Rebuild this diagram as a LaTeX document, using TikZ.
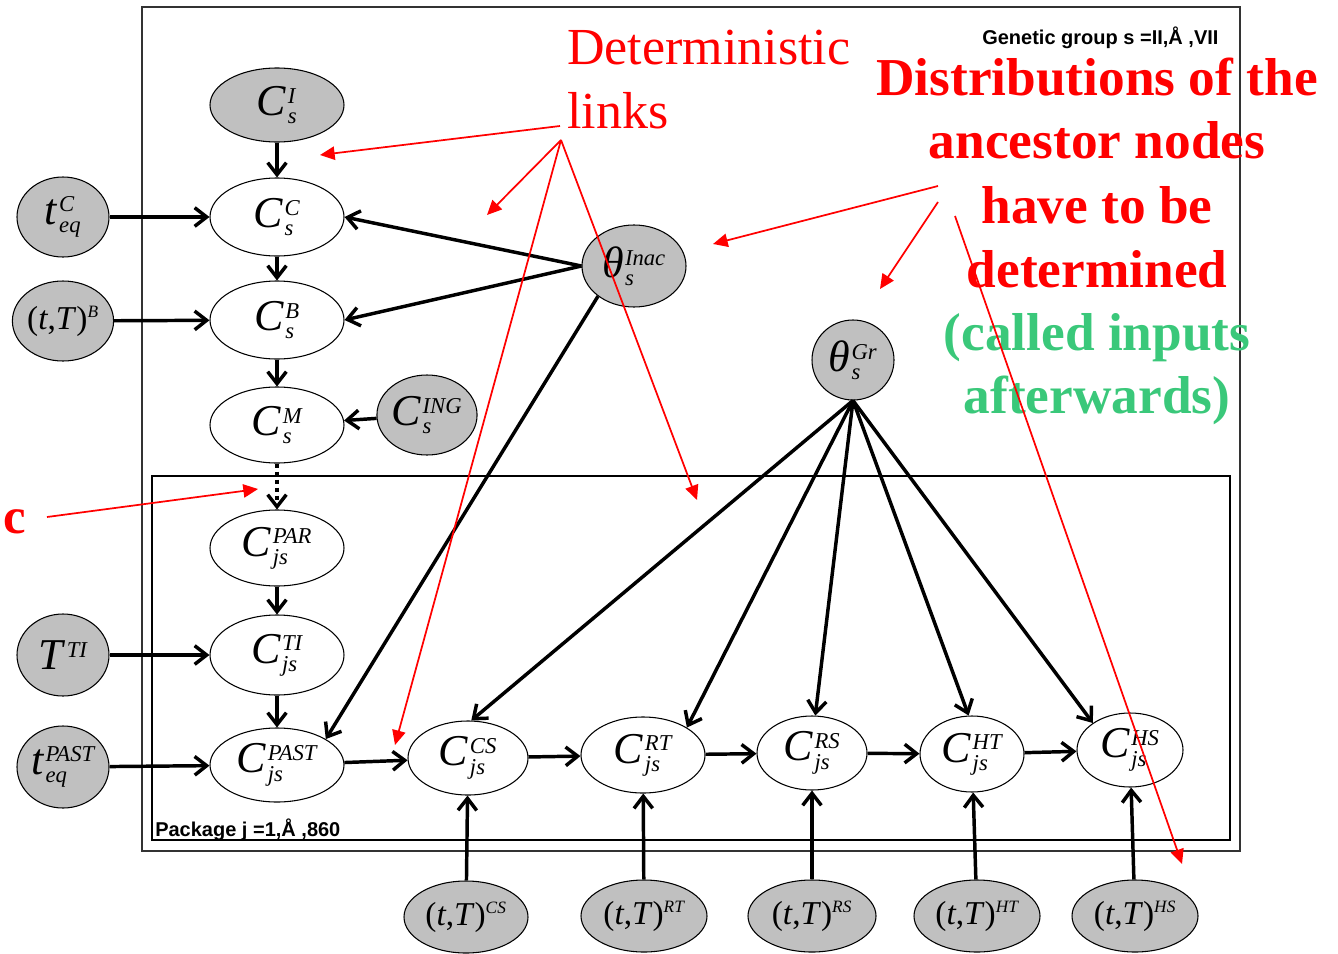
\documentclass[tikz,border=0pt]{standalone}
\usepackage{amsmath}
\usepackage{fontspec}
\setmainfont{Liberation Serif}
\newfontfamily\arialfont{Liberation Sans}
\usetikzlibrary{arrows.meta,shapes.geometric}
\DeclareMathSizes{33}{33}{17}{12}
\DeclareMathSizes{25}{25}{13}{10}
\definecolor{nodegray}{RGB}{192,192,192}
\definecolor{ingreen}{RGB}{58,200,122}
\newcommand\nv[3]{\textit{#1\/}\kern1pt$^{\textit{#2}}_{\textit{#3}}$}
\newcommand\tT[1]{(\textit{t},\textit{T\/})$^{\textit{#1}}$}
\tikzset{
  ell/.style 2 args={ellipse, draw=black, line width=0.8pt, inner sep=0pt,
    minimum width={1.5pt*#1}, minimum height={1.5pt*#2},
    font=\fontsize{33}{33}\selectfont},
  obs/.style={fill=nodegray},
  smallfont/.style={font=\fontsize{25}{25}\selectfont},
  blk/.style={draw=black, line width=2.6pt, -{Straight Barb[length=9pt,width=14pt]}},
  redarr/.style={draw=red, line width=1.3pt, -{Triangle[length=11pt,width=10pt]}},
  redtxt/.style={text=red, font=\fontsize{39}{39}\selectfont, anchor=base west, inner sep=0pt},
  bigtxt/.style={font=\bfseries\fontsize{40}{40}\selectfont, anchor=base, inner sep=0pt},
  sanslab/.style={font=\arialfont\bfseries\fontsize{15}{15}\selectfont, inner sep=0pt}
}
\begin{document}
\begin{tikzpicture}[x=0.75pt,y=-0.75pt]
\useasboundingbox (0,0) rectangle (1338,953);
% frames
\draw[line width=1.2pt, draw=black!80] (142,7) rectangle (1240,851);
\draw[line width=2pt] (152,476) rectangle (1230,840);
\node[sanslab, anchor=base west] (gg) at (982,44) {Genetic group s =II,Å ,VII};
\node[sanslab, anchor=base west] (pk) at (155,836) {Package j =1,Å ,860};

% nodes
\node[ell={67}{37}, obs] (CI) at (277,105) {\nv{C}{I}{s}};
\node[ell={67}{39}] (CC) at (277,217) {\nv{C}{C}{s}};
\node[ell={67}{39}] (CB) at (277,320) {\nv{C}{B}{s}};
\node[ell={67}{38}] (CM) at (277,425) {\nv{C}{M}{s}};
\node[ell={67}{38}] (CPAR) at (277,548) {\nv{C}{PAR}{js}};
\node[ell={67}{40}] (CTI) at (277,655) {\nv{C}{TI}{js}};
\node[ell={67}{37}] (CPAST) at (277,765) {\nv{C}{PAST}{js}};
\node[ell={46}{40}, obs] (teqC) at (63,217) {\nv{t}{C}{eq}};
\node[ell={46}{40}, obs, smallfont] (tTB) at (63,321) {\tT{B}};
\node[ell={46}{41}, obs] (TTI) at (63,655) {\textit{T\/}\kern1pt$^{\textit{TI}}$};
\node[ell={46}{41}, obs] (teqP) at (63,767) {\nv{t}{PAST}{eq}};
\node[ell={49}{40}, obs] (CING) at (427,415) {\nv{C}{ING}{s}};
\node[ell={52}{41}, obs] (thI) at (634,266) {\nv{θ}{Inac}{s}};
\node[ell={41}{40}, obs] (thG) at (853,360) {\nv{θ}{Gr}{s}};
\node[ell={60}{37}] (CCS) at (468,758) {\nv{C}{CS}{js}};
\node[ell={62}{38}] (CRT) at (643,755) {\nv{C}{RT}{js}};
\node[ell={55}{37}] (CRS) at (812,753) {\nv{C}{RS}{js}};
\node[ell={52}{38}] (CHT) at (972,754) {\nv{C}{HT}{js}};
\node[ell={53}{37}] (CHS) at (1130,750) {\nv{C}{HS}{js}};
\node[ell={62}{36}, obs, smallfont] (bCS) at (466,917) {\tT{CS}};
\node[ell={63}{36}, obs, smallfont] (bRT) at (644,916) {\tT{RT}};
\node[ell={64}{36}, obs, smallfont] (bRS) at (812,916) {\tT{RS}};
\node[ell={63}{36}, obs, smallfont] (bHT) at (977,916) {\tT{HT}};
\node[ell={63}{36}, obs, smallfont] (bHS) at (1135,916) {\tT{HS}};

% black connectors
\draw[blk] (CI) -- (CC);
\draw[blk] (CC) -- (CB);
\draw[blk] (CB) -- (CM);
\draw[blk, dash pattern=on 3.5pt off 2.5pt] (CM) -- (CPAR);
\draw[blk] (CPAR) -- (CTI);
\draw[blk] (CTI) -- (CPAST);
\draw[blk] (teqC) -- (CC);
\draw[blk] (tTB) -- (CB);
\draw[blk] (TTI) -- (CTI);
\draw[blk] (teqP) -- (CPAST);
\draw[blk] (CING) -- (CM);
\draw[blk] (thI.west) -- (CC.east);
\draw[blk] (thI.west) -- (CB.east);
\draw[blk] (thI.220) -- (CPAST.28);
\draw[blk] (CPAST) -- (CCS);
\draw[blk] (CCS) -- (CRT);
\draw[blk] (CRT) -- (CRS);
\draw[blk] (CRS) -- (CHT);
\draw[blk] (CHT) -- (CHS);
\draw[blk] (thG.south) -- (CCS.85);
\draw[blk] (thG.south) -- (CRT.32);
\draw[blk] (thG.south) -- (CRS.85);
\draw[blk] (thG.south) -- (CHT.95);
\draw[blk] (thG.south) -- (CHS.144);
\draw[blk] (bCS) -- (CCS);
\draw[blk] (bRT) -- (CRT);
\draw[blk] (bRS) -- (CRS);
\draw[blk] (bHT) -- (CHT);
\draw[blk] (bHS) -- (CHS);

% red annotations
\node[redtxt] (det1) at (567,64) {Deterministic};
\node[redtxt] (det2) at (567,128) {links};
\node[bigtxt, text=red] (d1) at (1097,95) {Distributions of the};
\node[bigtxt, text=red] (d2) at (1097,158) {ancestor nodes};
\node[bigtxt, text=red] (d3) at (1097,223) {have to be};
\node[bigtxt, text=red] (d4) at (1097,287) {determined};
\node[bigtxt, text=ingreen] (d5) at (1097,350) {(called inputs};
\node[bigtxt, text=ingreen] (d6) at (1097,413) {afterwards)};
\node[text=red, font=\bfseries\fontsize{38}{38}\selectfont, anchor=base east, inner sep=0pt] (cc) at (26,533) {c};

\coordinate (r0) at (560,126);
\coordinate (r1) at (561,140);
\coordinate (e1) at (320,155);
\coordinate (e2) at (487,215);
\coordinate (e3) at (395,745);
\coordinate (e4) at (697,500);
\coordinate (s5) at (938,186);
\coordinate (s6) at (938,202);
\coordinate (s7) at (955,216);
\coordinate (e5) at (713,244);
\coordinate (e6) at (880,289);
\coordinate (e7) at (1182,864);
\coordinate (s8) at (47,517);
\coordinate (e8) at (258,489);
\draw[redarr] (r0) -- (e1);
\draw[redarr] (r1) -- (e2);
\draw[redarr] (r1) -- (e3);
\draw[redarr] (r1) -- (e4);
\draw[redarr] (s5) -- (e5);
\draw[redarr] (s6) -- (e6);
\draw[redarr] (s7) -- (e7);
\draw[redarr] (s8) -- (e8);
\end{tikzpicture}
\end{document}
